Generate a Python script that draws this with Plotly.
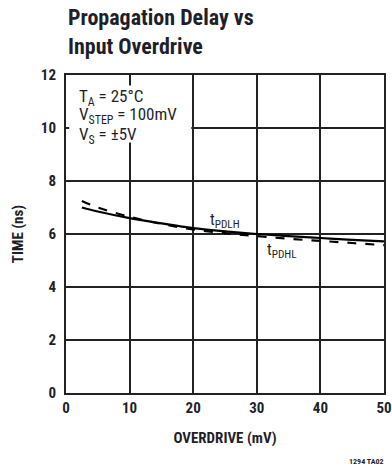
import plotly.graph_objects as go

overdrive_mv = [2.5, 5, 10, 15, 20, 25, 30, 35, 40, 45, 50]
t_pdlh_ns = [7.0, 6.85, 6.6, 6.4, 6.22, 6.1, 6.0, 5.92, 5.85, 5.78, 5.72]
t_pdhl_ns = [7.25, 7.0, 6.65, 6.38, 6.17, 6.03, 5.92, 5.82, 5.74, 5.66, 5.58]
x_ticks = [0, 10, 20, 30, 40, 50]
y_ticks = [0, 2, 4, 6, 8, 10, 12]
conditions = ["T<sub>A</sub> = 25°C", "V<sub>STEP</sub> = 100mV", "V<sub>S</sub> = ±5V"]
condition_y = [11.15, 10.47, 9.7]

FONT = "Liberation Sans Narrow, Roboto Condensed, Arial Narrow, Liberation Sans, Arial"
INK = "#1f1f2a"

fig = go.Figure()
fig.add_trace(go.Scatter(x=overdrive_mv, y=t_pdlh_ns, mode="lines", line=dict(color="black", width=2.2, shape="spline"), name="tPDLH"))
fig.add_trace(go.Scatter(x=overdrive_mv, y=t_pdhl_ns, mode="lines", line=dict(color="black", width=2.2, dash="dash", shape="spline"), name="tPDHL"))

# white box behind the conditions text (breaks gridlines like the original)
fig.add_shape(type="rect", xref="x", yref="y", x0=0.5, x1=19.7, y0=9.45, y1=11.6,
              fillcolor="white", line=dict(width=0), layer="above")

for txt, yy in zip(conditions, condition_y):
    fig.add_annotation(xref="x", yref="y", x=1.7, y=yy, xanchor="left", yanchor="middle", showarrow=False,
                       text=txt, font=dict(family=FONT, size=17, color=INK))
fig.add_annotation(xref="x", yref="y", x=25.0, y=6.52, showarrow=False,
                   text="t<sub>PDLH</sub>", font=dict(family=FONT, size=16, color=INK))
fig.add_annotation(xref="x", yref="y", x=34.0, y=5.36, showarrow=False,
                   text="t<sub>PDHL</sub>", font=dict(family=FONT, size=16, color=INK))

fig.add_annotation(xref="paper", yref="paper", x=0.0, y=1.0, yshift=72, xanchor="left", yanchor="top",
                   showarrow=False, align="left",
                   text="<b>Propagation Delay vs<br>Input Overdrive</b>",
                   font=dict(family=FONT, size=22, color=INK))
fig.add_annotation(xref="paper", yref="paper", x=1.0, y=-0.214, xshift=2, xanchor="right", yanchor="middle",
                   showarrow=False, text="<b>1294 TA02</b>", font=dict(family=FONT, size=8, color=INK))

fig.update_xaxes(range=[0, 50], tickvals=x_ticks, ticks="", showgrid=True, gridcolor="#222", gridwidth=1.5,
                 showline=True, linecolor="#222", linewidth=2, mirror=True, zeroline=False, automargin=False,
                 tickfont=dict(family=FONT, size=15, color=INK, weight="bold"),
                 title=dict(text="<b>OVERDRIVE (mV)</b>", font=dict(family=FONT, size=15, color=INK), standoff=16))
fig.update_yaxes(range=[0, 12], tickvals=y_ticks, ticks="", ticklabelstandoff=5,
                 showgrid=True, gridcolor="#222", gridwidth=1.5,
                 showline=True, linecolor="#222", linewidth=2, mirror=True, zeroline=False, automargin=False,
                 tickfont=dict(family=FONT, size=15, color=INK, weight="bold"),
                 title=dict(text="<b>TIME (ns)</b>", font=dict(family=FONT, size=15, color=INK), standoff=14))
fig.update_layout(width=392, height=468, margin=dict(l=66, r=8, t=75, b=75),
                  paper_bgcolor="white", plot_bgcolor="white", showlegend=False,
                  font=dict(family=FONT, color=INK))
fig.write_html("out.html", config={"displayModeBar": False},
               post_script="document.body.style.margin='0';")
